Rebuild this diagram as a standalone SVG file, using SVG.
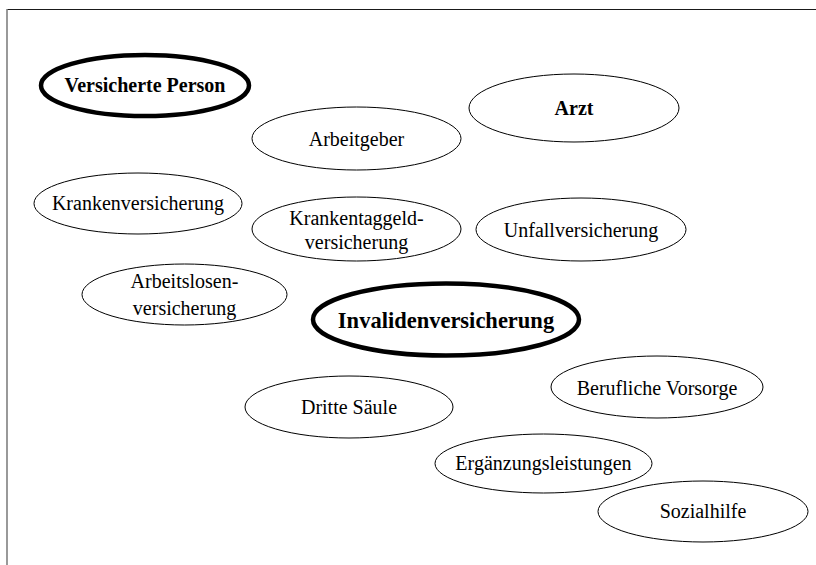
<svg xmlns="http://www.w3.org/2000/svg" width="816" height="565" viewBox="0 0 816 565">
<style>
.n{fill:#fff;stroke:#000;stroke-width:1}
.b{fill:#fff;stroke:#000;stroke-width:4.5}
text{font-family:"Liberation Serif","Times New Roman",serif;font-size:20px;fill:#000;text-anchor:middle}
.bt{font-weight:bold}
</style>
<rect width="816" height="565" fill="#fff"/>
<line x1="7" y1="9.5" x2="816" y2="9.5" stroke="#1a1a1a" stroke-width="1.2"/>
<line x1="7" y1="9" x2="7" y2="565" stroke="#808080" stroke-width="1.6"/>
<g id="connectors"></g>
<g id="versicherte-person"><ellipse class="b" cx="145" cy="85.5" rx="104" ry="30.5"/><text class="bt" x="145" y="92">Versicherte Person</text></g>
<g id="arzt"><ellipse class="n" cx="574" cy="108" rx="105" ry="34"/><text class="bt" x="574" y="115">Arzt</text></g>
<g id="arbeitgeber"><ellipse class="n" cx="356.5" cy="138.5" rx="104.5" ry="31.5"/><text x="356.5" y="146">Arbeitgeber</text></g>
<g id="krankenversicherung"><ellipse class="n" cx="138" cy="203.5" rx="104" ry="30.5"/><text x="138" y="210">Krankenversicherung</text></g>
<g id="krankentaggeldversicherung"><ellipse class="n" cx="356.5" cy="229" rx="104.5" ry="32"/><text x="356.5" y="225">Krankentaggeld-</text><text x="356.5" y="249">versicherung</text></g>
<g id="unfallversicherung"><ellipse class="n" cx="581" cy="229.5" rx="105" ry="31.5"/><text x="581" y="237">Unfallversicherung</text></g>
<g id="arbeitslosenversicherung"><ellipse class="n" cx="184.5" cy="294.5" rx="102.5" ry="30.5"/><text x="184.5" y="288">Arbeitslosen-</text><text x="184.5" y="315">versicherung</text></g>
<g id="invalidenversicherung"><ellipse class="b" cx="446" cy="319.5" rx="133" ry="36"/><text class="bt" x="446" y="328" style="font-size:22.5px">Invalidenversicherung</text></g>
<g id="dritte-saeule"><ellipse class="n" cx="349" cy="407" rx="104" ry="31"/><text x="349" y="414">Dritte Säule</text></g>
<g id="berufliche-vorsorge"><ellipse class="n" cx="657" cy="387" rx="106" ry="31"/><text x="657" y="395">Berufliche Vorsorge</text></g>
<g id="ergaenzungsleistungen"><ellipse class="n" cx="543.5" cy="463.5" rx="108.5" ry="29.5"/><text x="543.5" y="470">Ergänzungsleistungen</text></g>
<g id="sozialhilfe"><ellipse class="n" cx="703" cy="511.5" rx="105" ry="30.5"/><text x="703" y="518">Sozialhilfe</text></g>
</svg>
